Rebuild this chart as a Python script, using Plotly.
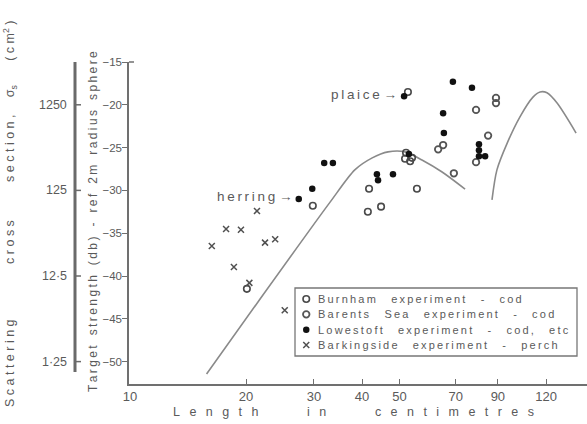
import math
import plotly.graph_objects as go

# ---------------- data ----------------
burnham_len = [20.1, 29.8, 41.7, 41.4, 44.8, 55.5, 52.0, 51.7, 53.9, 53.3, 52.6]
burnham_ts = [-41.5, -31.8, -29.8, -32.5, -31.9, -29.8, -25.6, -26.3, -26.2, -26.6, -18.5]

barents_len = [69.2, 63.0, 64.9, 79.0, 89.0, 89.0, 84.9, 79.0]
barents_ts = [-28.0, -25.2, -24.7, -20.6, -19.2, -19.8, -23.6, -26.7]

lowestoft_len = [27.4, 29.7, 31.9, 33.6, 43.7, 44.0, 48.1, 52.9, 51.4,
                 68.8, 77.1, 64.9, 65.2, 80.4, 80.4, 80.4, 83.4]
lowestoft_ts = [-31.0, -29.8, -26.8, -26.8, -28.1, -28.8, -28.1, -25.75, -19.0,
                -17.3, -18.0, -21.0, -23.3, -24.6, -25.3, -26.0, -26.0]

barking_len = [21.35, 17.75, 19.4, 16.3, 22.4, 23.8, 18.6, 20.4, 25.2]
barking_ts = [-32.4, -34.5, -34.6, -36.5, -36.1, -35.7, -38.95, -40.8, -44.0]

curve1_len = [15.8, 21.5, 33.0, 38.3, 42.5, 46.7, 51.7, 57.2, 64.5, 74.0]
curve1_ts = [-51.45, -43.0, -31.4, -27.6, -26.2, -25.5, -25.5, -26.45, -27.85, -29.85]

curve2_len = [86.9, 89.5, 95.1, 102.7, 111.0, 115.8, 120.7, 128.2, 143.6]
curve2_ts = [-31.1, -27.6, -24.5, -21.4, -19.1, -18.5, -18.6, -19.8, -23.3]

x_tick_vals = [10, 20, 30, 40, 50, 70, 90, 120]
y_tick_vals = [-15, -20, -25, -30, -35, -40, -45, -50]
sigma_tick_db = [-20, -30, -40, -50]
sigma_tick_labels = ["1250", "125", "12·5", "1·25"]

legend_labels = ["Burnham experiment - cod",
                 "Barents Sea experiment - cod",
                 "Lowestoft experiment - cod, etc",
                 "Barkingside experiment - perch"]

# ---------------- styling ----------------
FONT = "Liberation Sans"
TXT = "#5a5a5a"
AX = "#707070"
THIN = "\u2009"
NB = "\u00a0"


def spaced(s, sep=THIN, gap=2):
    words = s.split(" ")
    return (NB * gap).join(sep.join(w) for w in words)


W, H = 587, 424
L, R, T, B = 129, 0, 62, 40
pw = W - L - R
ph = H - T - B


def px(xp):
    return (xp - L) / pw


def py(yp):
    return (H - B - yp) / ph


fig = go.Figure()

line_style = dict(color="#8a8a8a", width=1.6, shape="spline", smoothing=0.8)
fig.add_trace(go.Scatter(x=curve1_len, y=curve1_ts, mode="lines", line=line_style,
                         showlegend=False, hoverinfo="skip"))
fig.add_trace(go.Scatter(x=curve2_len, y=curve2_ts, mode="lines", line=line_style,
                         showlegend=False, hoverinfo="skip"))

open_m = dict(symbol="circle-open", size=6.5, color="#4a4a4a", line=dict(width=1.6, color="#4a4a4a"))
open_m2 = dict(symbol="circle-open", size=6.5, color="#555555", line=dict(width=1.8, color="#555555"))
fill_m = dict(symbol="circle", size=6.5, color="#111111")
x_m = dict(symbol="x-thin", size=6, line=dict(width=1.5, color="#505050"), color="#505050")

fig.add_trace(go.Scatter(x=burnham_len, y=burnham_ts, mode="markers", marker=open_m,
                         name=legend_labels[0], showlegend=False))
fig.add_trace(go.Scatter(x=barents_len, y=barents_ts, mode="markers", marker=open_m2,
                         name=legend_labels[1], showlegend=False))
fig.add_trace(go.Scatter(x=lowestoft_len, y=lowestoft_ts, mode="markers", marker=fill_m,
                         name=legend_labels[2], showlegend=False))
fig.add_trace(go.Scatter(x=barking_len, y=barking_ts, mode="markers", marker=x_m,
                         name=legend_labels[3], showlegend=False))

# legend keys on an auxiliary axis laid over the legend box
for i, m in enumerate([open_m, open_m2, fill_m, x_m]):
    fig.add_trace(go.Scatter(x=[0.387], y=[i], mode="markers", marker=m, cliponaxis=False,
                             xaxis="x2", yaxis="y2", showlegend=False, hoverinfo="skip"))

ann = []
for i, lab in enumerate(legend_labels):
    ann.append(dict(x=px(316), y=i, xref="paper", yref="y2", xanchor="left", yanchor="middle",
                    text=spaced(lab, THIN, 5), showarrow=False,
                    font=dict(family=FONT, size=11, color=TXT)))

# point labels
ann.append(dict(x=math.log10(lowestoft_len[0]), y=lowestoft_ts[0], xref="x", yref="y",
                xanchor="right", yanchor="middle", xshift=-4, yshift=2,
                text=spaced("herring") + NB + "→", showarrow=False,
                font=dict(family=FONT, size=13.5, color=TXT)))
ann.append(dict(x=math.log10(lowestoft_len[8]), y=lowestoft_ts[8], xref="x", yref="y",
                xanchor="right", yanchor="middle", xshift=-5, yshift=2,
                text=spaced("plaice") + NB + "→", showarrow=False,
                font=dict(family=FONT, size=13.5, color=TXT)))

# axis titles
LSEP = NB * 2 + THIN
ann.append(dict(x=px(353), y=py(412), xref="paper", yref="paper", xanchor="center", yanchor="middle",
                text=spaced("Length", LSEP) + NB * 14 + spaced("in", LSEP) + NB * 14 +
                spaced("centimetres", LSEP),
                showarrow=False, font=dict(family=FONT, size=12.5, color=TXT)))
ann.append(dict(x=px(93), y=py(222), xref="paper", yref="paper", xanchor="center", yanchor="middle",
                textangle=-90, text=spaced("Target strength (db) - ref 2m radius sphere", THIN, 3),
                showarrow=False, font=dict(family=FONT, size=12, color=TXT)))
ann.append(dict(x=px(10), y=py(214), xref="paper", yref="paper", xanchor="center", yanchor="middle",
                textangle=-90,
                text=spaced("Scattering", NB) + NB * 16 + spaced("cross", NB) + NB * 11 +
                spaced("section,", NB) + NB * 5 + "σ<sub>s</sub>" + NB * 7 +
                "(" + NB + "c" + NB + "m<sup>2</sup>" + NB + ")",
                showarrow=False, font=dict(family=FONT, size=12.5, color=TXT)))

# scattering cross-section scale
shapes = [dict(type="line", xref="paper", yref="paper", x0=px(75), x1=px(75), y0=py(62), y1=py(372),
               line=dict(color="#6a6a6a", width=3)),
          dict(type="line", xref="paper", yref="paper", x0=px(129), x1=px(134), y0=py(62), y1=py(62),
               line=dict(color=AX, width=1.5)),
          dict(type="rect", xref="paper", yref="paper", x0=px(295), x1=px(577), y0=py(356), y1=py(288),
               line=dict(color="#777777", width=1.3), fillcolor="white", layer="below")]
for v, lab in zip(sigma_tick_db, sigma_tick_labels):
    shapes.append(dict(type="line", xref="paper", yref="y", x0=px(74), x1=px(81), y0=v, y1=v,
                       line=dict(color="#6a6a6a", width=1.5)))
    ann.append(dict(x=px(69), y=v, xref="paper", yref="y", xanchor="right", yanchor="middle",
                    text=lab, showarrow=False, font=dict(family=FONT, size=12.5, color=TXT)))

fig.update_layout(
    width=W, height=H, margin=dict(l=L, r=R, t=T, b=B),
    paper_bgcolor="white", plot_bgcolor="rgba(0,0,0,0)",
    xaxis=dict(type="log", range=[math.log10(10) - 1 / 385.5, 1 + (W - 130) / 385.5],
               tickvals=x_tick_vals, ticktext=[str(v) for v in x_tick_vals],
               ticks="inside", ticklen=5, tickcolor=AX, tickwidth=1.2,
               showline=True, linecolor=AX, linewidth=1.5, showgrid=False, zeroline=False,
               tickfont=dict(family=FONT, size=13, color=TXT)),
    yaxis=dict(range=[-15 - (H - B - T) / 8.56, -15], tickvals=y_tick_vals,
               ticks="outside", ticklen=5, tickcolor=AX, tickwidth=1.2, ticklabelstandoff=-2,
               showline=True, linecolor=AX, linewidth=1.5, showgrid=False, zeroline=False,
               tickfont=dict(family=FONT, size=11.5, color=TXT)),
    xaxis2=dict(domain=[0, 1], range=[0, 1], visible=False, anchor="y2"),
    yaxis2=dict(domain=[py(345), py(299)], range=[3, 0], visible=False, anchor="x2"),
    shapes=shapes, annotations=ann, showlegend=False,
)

fig.write_html("out.html")
